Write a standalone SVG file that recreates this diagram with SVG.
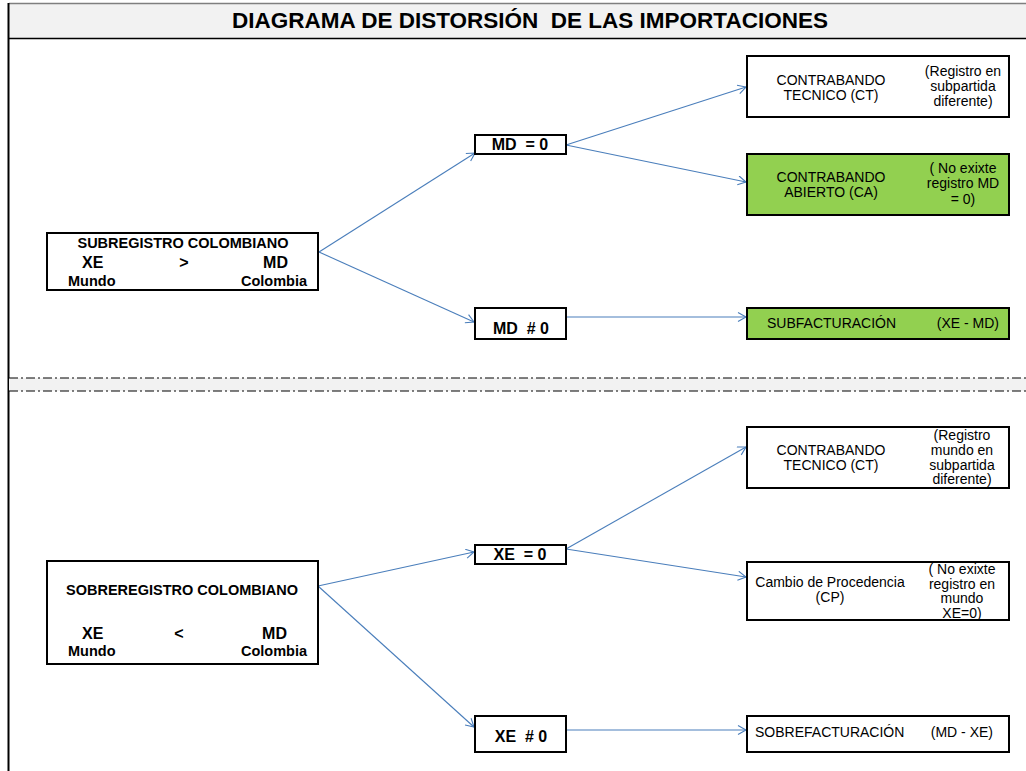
<svg xmlns="http://www.w3.org/2000/svg" width="1026" height="771" viewBox="0 0 1026 771">
<defs>
<style>
.box{fill:#ffffff;stroke:#000000;stroke-width:2}
.green{fill:#92D050;stroke:#000000;stroke-width:2}
.t{font-family:"Liberation Sans",Arial,sans-serif;fill:#000000}
.b{font-weight:bold}
.r14{font-size:14px}
.conn{stroke:#4A7EBB;stroke-width:1.1;fill:none;marker-end:url(#arr)}
.dash{stroke:#000000;stroke-width:1;stroke-dasharray:9 3 2 3;fill:none}
</style>
<marker id="arr" markerUnits="userSpaceOnUse" markerWidth="12" markerHeight="12" refX="9" refY="5" orient="auto">
<path d="M1,0.5 L9,5 L1,9.5" fill="none" stroke="#4A7EBB" stroke-width="1.1"/>
</marker>
</defs>
<rect x="0" y="0" width="1026" height="771" fill="#ffffff"/>
<g id="frame">
<rect x="9" y="3" width="1017" height="35" fill="#f2f2f2"/>
<line x1="9" y1="3.5" x2="1026" y2="3.5" stroke="#7f7f7f" stroke-width="1.5"/>
<line x1="9" y1="38.5" x2="1026" y2="38.5" stroke="#000000" stroke-width="1.5"/>
<line x1="8.5" y1="3" x2="8.5" y2="771" stroke="#000000" stroke-width="2"/>
<text class="t b" x="530" y="28" font-size="22.5" text-anchor="middle" xml:space="preserve">DIAGRAMA DE DISTORSIÓN  DE LAS IMPORTACIONES</text>
</g>
<g id="separator">
<rect x="9" y="378" width="1017" height="13" fill="#f2f2f2"/>
<line class="dash" x1="9" y1="378" x2="1026" y2="378"/>
<line class="dash" x1="9" y1="391" x2="1026" y2="391"/>
</g>
<g id="connectors">
<line class="conn" x1="319" y1="252" x2="475" y2="153"/>
<line class="conn" x1="319" y1="252" x2="474" y2="322"/>
<line class="conn" x1="566" y1="145" x2="746" y2="87"/>
<line class="conn" x1="566" y1="145" x2="746" y2="182"/>
<line class="conn" x1="566" y1="317" x2="746" y2="317"/>
<line class="conn" x1="318" y1="586" x2="474" y2="552"/>
<line class="conn" x1="318" y1="586" x2="474" y2="727"/>
<line class="conn" x1="566" y1="549" x2="746" y2="447"/>
<line class="conn" x1="566" y1="549" x2="746" y2="577"/>
<line class="conn" x1="566" y1="730" x2="746" y2="730"/>
</g>
<g id="subregistro">
<rect class="box" x="47" y="233" width="271" height="57"/>
<text class="t b" x="183" y="248" font-size="14.5" text-anchor="middle">SUBREGISTRO COLOMBIANO</text>
<text class="t b" x="82" y="268" font-size="16">XE</text>
<text class="t b" x="184" y="268" font-size="16" text-anchor="middle">&gt;</text>
<text class="t b" x="288" y="268" font-size="16" text-anchor="end">MD</text>
<text class="t b" x="68" y="286" font-size="14.5">Mundo</text>
<text class="t b" x="307" y="286" font-size="14.5" text-anchor="end">Colombia</text>
</g>
<g id="md_eq0">
<rect class="box" x="475" y="135" width="91" height="19"/>
<text class="t b" x="520" y="150" font-size="16" text-anchor="middle" xml:space="preserve">MD  = 0</text>
</g>
<g id="md_ne0">
<rect class="box" x="475" y="308" width="91" height="31"/>
<text class="t b" x="521" y="334" font-size="16" text-anchor="middle" xml:space="preserve">MD  # 0</text>
</g>
<g id="ct_top">
<rect class="box" x="747" y="56" width="262" height="61"/>
<text class="t r14" x="831" y="85" text-anchor="middle">CONTRABANDO</text>
<text class="t r14" x="831" y="100" text-anchor="middle">TECNICO (CT)</text>
<text class="t r14" x="963" y="76" text-anchor="middle">(Registro en</text>
<text class="t r14" x="963" y="91" text-anchor="middle">subpartida</text>
<text class="t r14" x="963" y="106" text-anchor="middle">diferente)</text>
</g>
<g id="ca">
<rect class="green" x="747" y="154" width="262" height="61"/>
<text class="t r14" x="831" y="182" text-anchor="middle">CONTRABANDO</text>
<text class="t r14" x="831" y="197" text-anchor="middle">ABIERTO (CA)</text>
<text class="t r14" x="963" y="173" text-anchor="middle">( No exixte</text>
<text class="t r14" x="963" y="188" text-anchor="middle">registro MD</text>
<text class="t r14" x="963" y="204" text-anchor="middle">= 0)</text>
</g>
<g id="subfacturacion">
<rect class="green" x="747" y="308" width="262" height="31"/>
<text class="t r14" x="767" y="328">SUBFACTURACIÓN</text>
<text class="t r14" x="999" y="328" text-anchor="end">(XE - MD)</text>
</g>
<g id="sobreregistro">
<rect class="box" x="47" y="561" width="271" height="103"/>
<text class="t b" x="182" y="595" font-size="14.5" text-anchor="middle">SOBREREGISTRO COLOMBIANO</text>
<text class="t b" x="82" y="639" font-size="16">XE</text>
<text class="t b" x="179" y="639" font-size="16" text-anchor="middle">&lt;</text>
<text class="t b" x="287" y="639" font-size="16" text-anchor="end">MD</text>
<text class="t b" x="68" y="656" font-size="14.5">Mundo</text>
<text class="t b" x="307" y="656" font-size="14.5" text-anchor="end">Colombia</text>
</g>
<g id="xe_eq0">
<rect class="box" x="475" y="545" width="91" height="19"/>
<text class="t b" x="520" y="560" font-size="16" text-anchor="middle" xml:space="preserve">XE  = 0</text>
</g>
<g id="xe_ne0">
<rect class="box" x="475" y="716" width="91" height="36"/>
<text class="t b" x="521" y="742" font-size="16" text-anchor="middle" xml:space="preserve">XE  # 0</text>
</g>
<g id="ct_bottom">
<rect class="box" x="747" y="427" width="262" height="61"/>
<text class="t r14" x="831" y="455" text-anchor="middle">CONTRABANDO</text>
<text class="t r14" x="831" y="470" text-anchor="middle">TECNICO (CT)</text>
<text class="t r14" x="962" y="440" text-anchor="middle">(Registro</text>
<text class="t r14" x="962" y="455" text-anchor="middle">mundo en</text>
<text class="t r14" x="962" y="470" text-anchor="middle">subpartida</text>
<text class="t r14" x="962" y="484" text-anchor="middle">diferente)</text>
</g>
<g id="cambio">
<rect class="box" x="747" y="562" width="262" height="58"/>
<text class="t r14" x="830" y="587" text-anchor="middle">Cambio de Procedencia</text>
<text class="t r14" x="830" y="602" text-anchor="middle">(CP)</text>
<text class="t r14" x="962" y="574" text-anchor="middle">( No exixte</text>
<text class="t r14" x="962" y="589" text-anchor="middle">registro en</text>
<text class="t r14" x="962" y="603" text-anchor="middle">mundo</text>
<text class="t r14" x="962" y="618" text-anchor="middle">XE=0)</text>
</g>
<g id="sobrefacturacion">
<rect class="box" x="747" y="716" width="262" height="36"/>
<text class="t r14" x="755" y="737">SOBREFACTURACIÓN</text>
<text class="t r14" x="993" y="737" text-anchor="end">(MD - XE)</text>
</g>
</svg>
